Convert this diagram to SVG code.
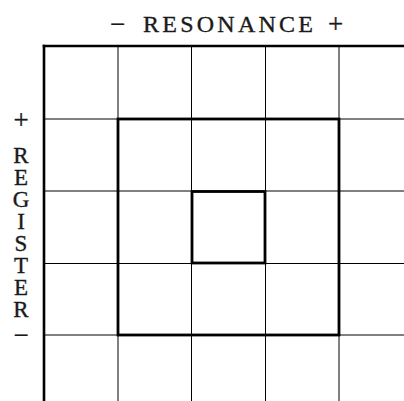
<svg xmlns="http://www.w3.org/2000/svg" width="404" height="401" viewBox="0 0 404 401">
<style>
.lbl{font-family:"Liberation Serif","DejaVu Serif",serif;font-size:24px;fill:#1a1a1a;stroke:#1a1a1a;stroke-width:0.35;}
.pm{font-family:"Liberation Serif","DejaVu Serif",serif;font-size:27px;fill:#1a1a1a;stroke:#1a1a1a;stroke-width:0.35;text-anchor:middle;}
.side{font-family:"Liberation Serif","DejaVu Serif",serif;font-size:23px;fill:#1a1a1a;stroke:#1a1a1a;stroke-width:0.35;text-anchor:middle;}
.grid{stroke:#000;stroke-width:1;fill:none;}
.axis{stroke:#000;stroke-width:2.6;fill:none;}
.sq{stroke:#000;stroke-width:2.8;fill:none;}
</style>
<rect width="404" height="401" fill="#fff"/>
<g id="grid">
<line class="grid" x1="118" y1="46" x2="118" y2="401"/>
<line class="grid" x1="191.5" y1="46" x2="191.5" y2="401"/>
<line class="grid" x1="265.5" y1="46" x2="265.5" y2="401"/>
<line class="grid" x1="339" y1="46" x2="339" y2="401"/>
<line class="grid" x1="44" y1="119" x2="404" y2="119"/>
<line class="grid" x1="44" y1="191" x2="404" y2="191"/>
<line class="grid" x1="44" y1="263.5" x2="404" y2="263.5"/>
<line class="grid" x1="44" y1="335" x2="404" y2="335"/>
</g>
<g id="axes">
<line class="axis" x1="44" y1="44.7" x2="44" y2="401"/>
<line class="axis" x1="42.7" y1="46" x2="404" y2="46"/>
</g>
<g id="outer-square"><rect class="sq" x="118" y="119" width="221" height="216"/></g>
<g id="inner-square"><rect class="sq" x="192" y="191.5" width="73" height="71.5"/></g>
<g id="resonance-label">
<text class="pm" x="117.5" y="33">−</text>
<text class="lbl" x="143" y="32" textLength="170" lengthAdjust="spacing">RESONANCE</text>
<text class="pm" x="335.5" y="33">+</text>
</g>
<g id="register-label">
<text class="pm" x="21" y="129">+</text>
<text class="side" x="21" y="163">R</text>
<text class="side" x="21" y="185">E</text>
<text class="side" x="21" y="207">G</text>
<text class="side" x="21" y="229">I</text>
<text class="side" x="21" y="251">S</text>
<text class="side" x="21" y="273">T</text>
<text class="side" x="21" y="295">E</text>
<text class="side" x="21" y="317">R</text>
<text class="pm" x="21" y="344">−</text>
</g>
</svg>
